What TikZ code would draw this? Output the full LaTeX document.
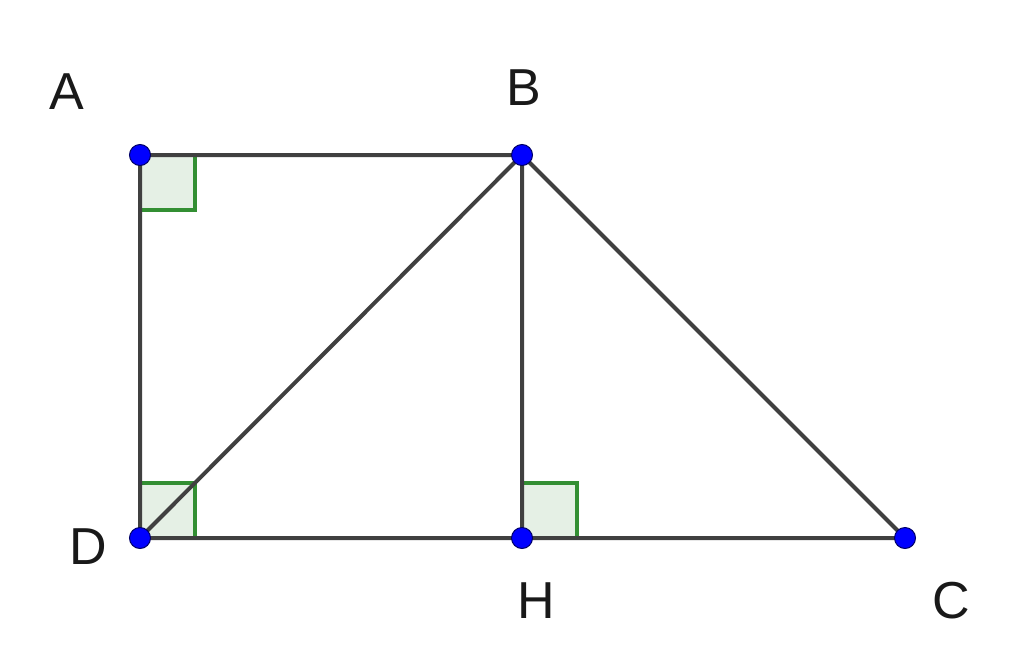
\documentclass[tikz,border=0pt]{standalone}
\usepackage{fontspec}
\setmainfont{Liberation Sans}
\begin{document}
\begin{tikzpicture}[x=1pt,y=-1pt,
  seg/.style={draw=black!75, line width=4pt},
  ra/.style={draw=green!45!black!80, fill=green!40!black!10, line width=4pt},
  pt/.style={circle, fill=blue, draw=blue!40!black, line width=1pt, inner sep=0pt, minimum size=21pt},
  lbl/.style={font=\fontsize{52}{52}\selectfont, text=black!90}]
\useasboundingbox (0,0) rectangle (1024,664);
\coordinate (A) at (140,155);
\coordinate (B) at (522,155);
\coordinate (D) at (140,538);
\coordinate (H) at (522,538);
\coordinate (C) at (905,538);
\filldraw[ra] (A) rectangle ++(55,55);
\filldraw[ra] (D) rectangle ++(55,-55);
\filldraw[ra] (H) rectangle ++(55,-55);
\draw[seg] (A) -- (B) -- (C) -- (D) -- cycle;
\draw[seg] (D) -- (B) -- (H);
\foreach \p in {A,B,C,D,H} \node[pt] (p\p) at (\p) {};
\node[lbl] (lA) at (67,92) {A};
\node[lbl] (lB) at (524,88) {B};
\node[lbl] (lD) at (88,547) {D};
\node[lbl] (lH) at (536,601) {H};
\node[lbl] (lC) at (951,601) {C};
\end{tikzpicture}
\end{document}
